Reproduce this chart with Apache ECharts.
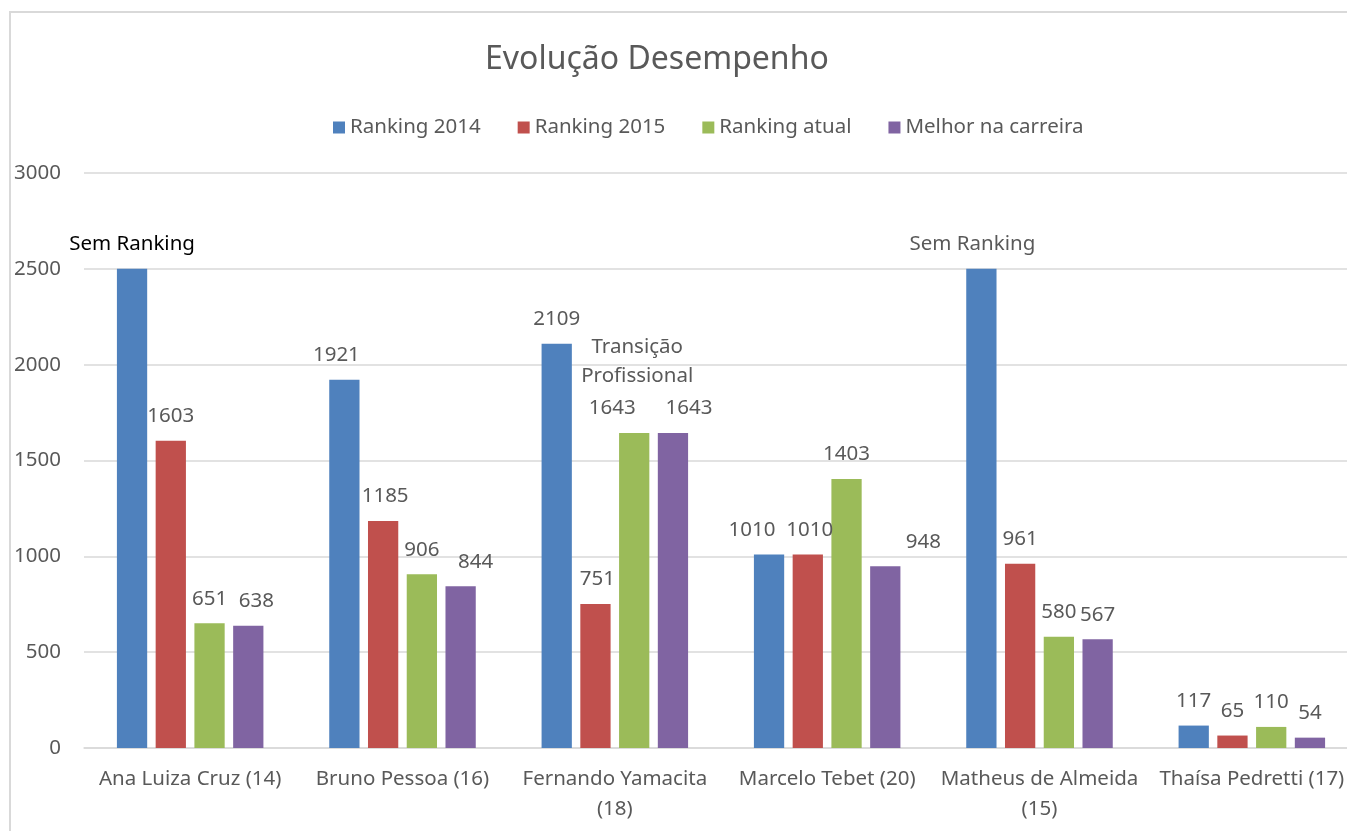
<!DOCTYPE html>
<html><head><meta charset="utf-8">
<script src="https://cdn.jsdelivr.net/npm/echarts@6/dist/echarts.min.js"></script>
<style>html,body{margin:0;padding:0;background:#fff;overflow:hidden}#c{width:1372px;height:831px}</style>
</head><body><div id="c"></div>
<script>
var categories = ['Ana Luiza Cruz (14)', 'Bruno Pessoa (16)', 'Fernando Yamacita (18)', 'Marcelo Tebet (20)', 'Matheus de Almeida (15)', 'Thaísa Pedretti (17)'];
var seriesNames = ['Ranking 2014', 'Ranking 2015', 'Ranking atual', 'Melhor na carreira'];
var ranking2014 = [2500, 1921, 2109, 1010, 2500, 117];
var ranking2014Text = ['Sem Ranking', null, null, null, 'Sem Ranking', null];
var ranking2015 = [1603, 1185, 751, 1010, 961, 65];
var rankingAtual = [651, 906, 1643, 1403, 580, 110];
var melhorCarreira = [638, 844, 1643, 948, 567, 54];
var yTicks = [0, 500, 1000, 1500, 2000, 2500, 3000];
var noteText = 'Transição\nProfissional';
var noteCategory = 'Fernando Yamacita (18)';
var noteValue = 2014;

// styling: horizontal label nudges (px) per series / category
var nudges = [
  [0, -8, 0, -17, -9, 0],
  [0, 2, 2, 2, 0, 0],
  [0, 0, -22, 0, 0, 0],
  [8, 15, 16, 38, 0, 0]
];
var colors = ['#4f81bd', '#c0504d', '#9bbb59', '#8064a2'];
var FONT = 'Noto Sans';
var GREY = '#595959';
var FS = 20.5;

var allValues = [ranking2014, ranking2015, rankingAtual, melhorCarreira];
var series = allValues.map(function (vals, si) {
  return {
    name: seriesNames[si],
    type: 'bar',
    barGap: '28%',
    barCategoryGap: '31%',
    itemStyle: {color: colors[si]},
    data: vals.map(function (v, ci) {
      var item = {value: v, label: {offset: [nudges[si][ci], 0]}};
      if (si === 0 && ranking2014Text[ci]) {
        item.label.formatter = ranking2014Text[ci];
        item.label.color = ci === 0 ? '#000000' : GREY;
      }
      return item;
    }),
    label: {show: true, position: 'top', distance: 14, color: GREY, fontFamily: FONT, fontSize: FS},
    markPoint: si === 2 ? {
      symbol: 'rect', symbolSize: 1, itemStyle: {color: 'rgba(0,0,0,0)'},
      label: {show: true, position: 'inside', formatter: noteText, color: GREY, fontFamily: FONT, fontSize: FS, lineHeight: 29, offset: [3, 0]},
      data: [{coord: [noteCategory, noteValue]}]
    } : undefined
  };
});

var chart = echarts.init(document.getElementById('c'));
chart.setOption({
  backgroundColor: '#fff',
  animation: false,
  color: colors,
  title: {text: 'Evolução Desempenho', left: 480, top: 39, textStyle: {fontFamily: FONT, fontSize: 32, fontWeight: 'normal', color: GREY}},
  legend: {top: 112, left: 328, itemWidth: 12, itemHeight: 12, itemGap: 37, icon: 'rect',
    textStyle: {fontFamily: FONT, fontSize: FS, color: GREY}, data: seriesNames},
  grid: {left: 84, top: 173, width: 1274, height: 575},
  xAxis: {type: 'category', data: categories,
    axisLine: {lineStyle: {color: '#d9d9d9', width: 1.5}}, axisTick: {show: false},
    axisLabel: {fontFamily: FONT, fontSize: FS, color: GREY, margin: 16, lineHeight: 30, interval: 0,
      formatter: function (s) { if (s.length > 21) { var i = s.lastIndexOf(' '); return s.slice(0, i) + '\n' + s.slice(i + 1); } return s; }}},
  yAxis: {type: 'value', min: yTicks[0], max: yTicks[yTicks.length - 1], interval: yTicks[1] - yTicks[0],
    axisLine: {show: false}, axisTick: {show: false},
    splitLine: {lineStyle: {color: '#d9d9d9', width: 1.5}},
    axisLabel: {fontFamily: FONT, fontSize: FS, color: GREY, margin: 23, formatter: function (v) { return String(v); }}},
  graphic: [{type: 'rect', shape: {x: 10, y: 12, width: 1400, height: 900}, style: {fill: 'none', stroke: '#d9d9d9', lineWidth: 2}, silent: true, z: 100}],
  series: series
});
</script></body></html>
